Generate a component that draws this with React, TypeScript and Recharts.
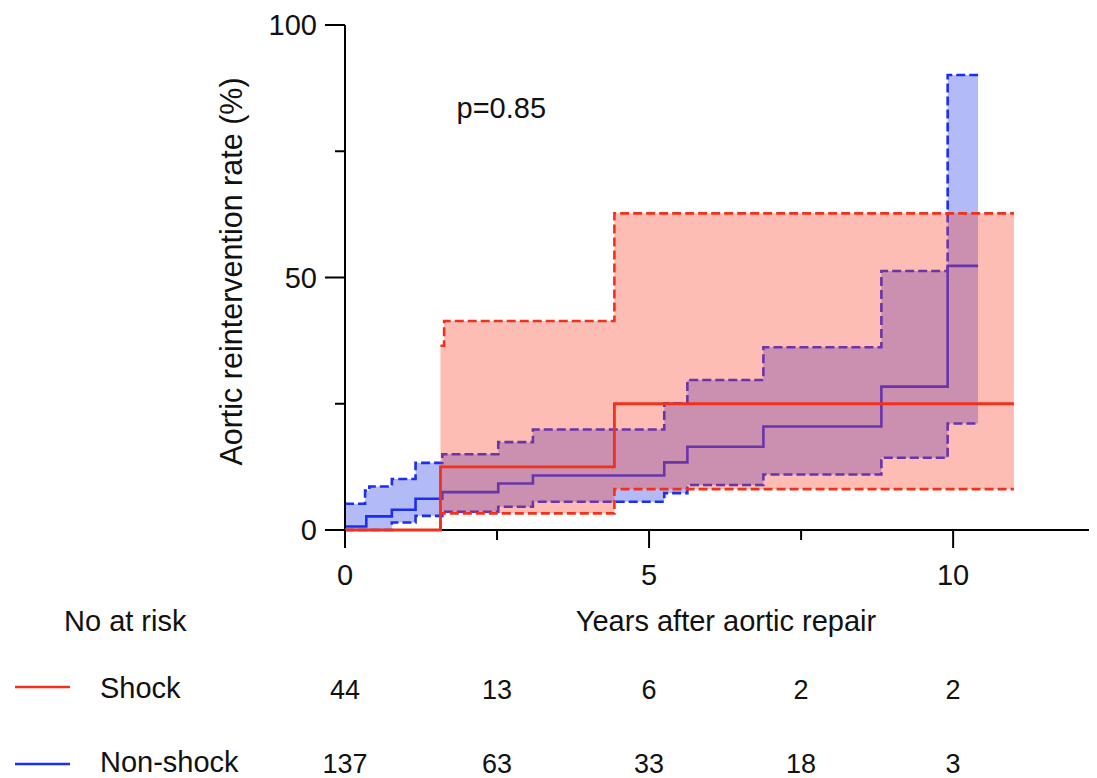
import React from 'react';
import { ComposedChart, Area, Line, XAxis, YAxis, ReferenceDot, Label } from 'recharts';

// Shock group: cumulative reintervention (%), step function
const shockTimes = [0, 1.57, 4.43, 11.0];
const shockRate = [0, 12.5, 25.0, 25.0];
const shockLowTimes = [1.57, 1.57, 4.43, 11.0];
const shockLow = [0, 3.3, 8.1, 8.1];
const shockHighTimes = [1.57, 1.63, 4.43, 11.0];
const shockHigh = [36.5, 41.4, 62.7, 62.7];

// Non-shock group
const nonShockTimes = [0, 0.35, 0.77, 1.16, 1.6, 2.52, 3.09, 5.25, 5.63, 6.88, 8.82, 9.91, 10.41];
const nonShockRate = [0.7, 2.7, 4.0, 6.2, 7.5, 9.2, 10.8, 13.4, 16.5, 20.5, 28.4, 52.3, 52.3];
const nonShockHighTimes = [0, 0.33, 0.4, 0.77, 1.16, 1.6, 2.52, 3.09, 5.25, 5.63, 6.88, 8.82, 9.91, 10.41];
const nonShockHigh = [5.2, 7.8, 8.6, 10.1, 13.3, 15.0, 17.4, 19.9, 25.1, 29.7, 36.2, 51.3, 90.1, 90.1];
const nonShockLowTimes = [0, 0.77, 1.16, 1.6, 2.52, 3.09, 5.25, 5.63, 6.88, 8.82, 9.91, 10.41];
const nonShockLow = [0, 1.5, 2.8, 3.6, 4.6, 5.6, 7.3, 8.9, 11.0, 14.3, 21.1, 21.1];

// axis ticks and number at risk
const xTicks = [0, 2.5, 5, 7.5, 10];
const xLabelled = [0, 5, 10];
const yTicks = [0, 25, 50, 75, 100];
const yLabelled = [0, 50, 100];
const shockRisk = [44, 13, 6, 2, 2];
const nonShockRisk = [137, 63, 33, 18, 3];

const RED = '#f2301b';
const BLUE = '#1c2ef0';
const FONT = '"Liberation Sans", Arial, Helvetica, sans-serif';

const toPoints = (ts: number[], vs: number[]) => ts.map((t, i) => ({ t, v: vs[i] }));

// value of a step function at t (last step at or before t)
const stepAt = (ts: number[], vs: number[], t: number) => {
  let v = vs[0];
  ts.forEach((x, i) => {
    if (x <= t) v = vs[i];
  });
  return v;
};

const band = (loT: number[], lo: number[], hiT: number[], hi: number[]) => {
  const times = Array.from(new Set([...loT, ...hiT])).sort((a, b) => a - b);
  return times.map((t) => ({ t, lo: stepAt(loT, lo, t), hi: stepAt(hiT, hi, t) }));
};

const shockBand = band([1.57, 4.43, 11.0], [3.3, 8.1, 8.1], shockHighTimes, shockHigh);
const nonShockBand = band(nonShockLowTimes, nonShockLow, nonShockHighTimes, nonShockHigh);

// x tick: tick mark, year label and the number-at-risk column below it
const XTick = (props: any) => {
  const { x, y, payload } = props;
  const major = xLabelled.includes(payload.value);
  const i = xTicks.indexOf(payload.value);
  return (
    <g fontFamily={FONT} fill="#111">
      <line x1={x} x2={x} y1={y} y2={y + (major ? 18 : 10)} stroke="#000" strokeWidth={2} />
      {major && (
        <text x={x} y={y + 55} textAnchor="middle" fontSize={29}>
          {payload.value}
        </text>
      )}
      <text x={x} y={y + 169} textAnchor="middle" fontSize={27}>
        {shockRisk[i]}
      </text>
      <text x={x} y={y + 243} textAnchor="middle" fontSize={27}>
        {nonShockRisk[i]}
      </text>
    </g>
  );
};

const YTick = (props: any) => {
  const { x, y, payload } = props;
  const major = yLabelled.includes(payload.value);
  return (
    <g>
      <line x1={x - (major ? 20 : 10)} x2={x} y1={y} y2={y} stroke="#000" strokeWidth={2} />
      {major && (
        <text x={x - 28} y={y + 10} textAnchor="end" fontSize={29} fontFamily={FONT} fill="#111">
          {payload.value}
        </text>
      )}
    </g>
  );
};

const XTitle = (props: any) => {
  const { x, y, width } = props.viewBox;
  return (
    <g fontFamily={FONT} fill="#111" fontSize={29}>
      <text x={x + width / 2 + 7} y={y + 101} textAnchor="middle">
        Years after aortic repair
      </text>
      <text x={x - 281} y={y + 101}>No at risk</text>
      <line x1={x - 330} x2={x - 275} y1={y + 157} y2={y + 157} stroke={RED} strokeWidth={2.5} />
      <text x={x - 245} y={y + 168}>Shock</text>
      <line x1={x - 330} x2={x - 275} y1={y + 234} y2={y + 234} stroke={BLUE} strokeWidth={2.5} />
      <text x={x - 245} y={y + 242}>Non-shock</text>
    </g>
  );
};

const YTitle = (props: any) => {
  const { x, y, height } = props.viewBox;
  const cx = x + 242;
  const cy = y + height / 2 - 6;
  return (
    <text
      x={cx}
      y={cy}
      transform={`rotate(-90 ${cx} ${cy})`}
      textAnchor="middle"
      fontSize={30.5}
      fontFamily={FONT}
      fill="#111"
    >
      Aortic reintervention rate (%)
    </text>
  );
};

export default function App() {
  const lineCommon = {
    type: 'stepAfter' as const,
    dataKey: 'v',
    dot: false,
    activeDot: false,
    isAnimationActive: false,
  };
  return (
    <div style={{ width: 1097, height: 778, marginLeft: -8, marginTop: -8 }}>
      <ComposedChart width={1097} height={778} margin={{ top: 25, right: 4, left: 0, bottom: 0 }}>
        <XAxis
          type="number"
          dataKey="t"
          domain={[0, 12.3]}
          ticks={xTicks}
          interval={0}
          allowDataOverflow
          height={248}
          tickSize={0}
          tickMargin={0}
          tickLine={false}
          axisLine={{ stroke: '#000', strokeWidth: 2 }}
          tick={(p: any) => <XTick {...p} />}
        >
          <Label content={(p: any) => <XTitle {...p} />} />
        </XAxis>
        <YAxis
          type="number"
          domain={[0, 100]}
          ticks={yTicks}
          interval={0}
          width={345}
          tickSize={0}
          tickMargin={0}
          tickLine={false}
          axisLine={{ stroke: '#000', strokeWidth: 2 }}
          tick={(p: any) => <YTick {...p} />}
        >
          <Label content={(p: any) => <YTitle {...p} />} />
        </YAxis>

        {/* non-shock band and lines underneath */}
        <Area
          data={nonShockBand}
          dataKey={(d: any) => [d.lo, d.hi]}
          type="stepAfter"
          stroke="none"
          fill="#b3bbf7"
          fillOpacity={1}
          isAnimationActive={false}
          activeDot={false}
          zIndex={100}
        />
        <Line {...lineCommon} data={toPoints(nonShockHighTimes, nonShockHigh)} stroke={BLUE} strokeWidth={2.6} strokeDasharray="9 4" zIndex={110} />
        <Line {...lineCommon} data={toPoints(nonShockLowTimes, nonShockLow)} stroke={BLUE} strokeWidth={2.6} strokeDasharray="9 4" zIndex={110} />
        <Line {...lineCommon} data={toPoints(nonShockTimes, nonShockRate)} stroke={BLUE} strokeWidth={2.6} zIndex={110} />

        {/* shock band on top, translucent */}
        <Area
          data={shockBand}
          dataKey={(d: any) => [d.lo, d.hi]}
          type="stepAfter"
          stroke="none"
          fill="#f94229"
          fillOpacity={0.35}
          isAnimationActive={false}
          activeDot={false}
          zIndex={120}
        />
        <Line {...lineCommon} data={toPoints(shockHighTimes, shockHigh)} stroke={RED} strokeWidth={2.6} strokeDasharray="9 4" zIndex={600} />
        <Line {...lineCommon} data={toPoints(shockLowTimes, shockLow)} stroke={RED} strokeWidth={2.6} strokeDasharray="9 4" zIndex={600} />
        <Line {...lineCommon} data={toPoints(shockTimes, shockRate)} stroke={RED} strokeWidth={2.8} zIndex={600} />

        <ReferenceDot
          x={2.57}
          y={83.6}
          r={0}
          ifOverflow="visible"
          shape={(p: any) => (
            <text x={p.cx} y={p.cy + 10} textAnchor="middle" fontSize={29} fontFamily={FONT} fill="#111">
              p=0.85
            </text>
          )}
        />
      </ComposedChart>
    </div>
  );
}
